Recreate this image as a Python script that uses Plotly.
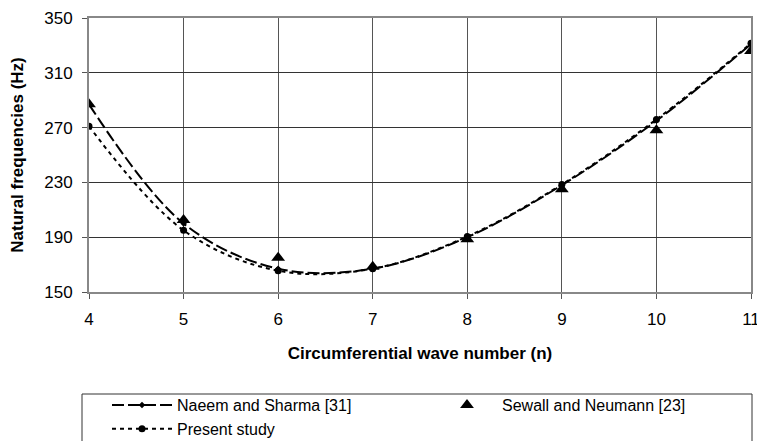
import plotly.graph_objects as go

n_vals = [4, 5, 6, 7, 8, 9, 10, 11]
naeem = [287, 200, 167, 167, 190, 228, 275, 331]
sewall = [287, 202.5, 175, 168.5, 188.5, 225, 268, 326]
present = [271, 195, 165.5, 167, 190.5, 228.5, 276, 331.5]

x_ticks = [4, 5, 6, 7, 8, 9, 10, 11]
y_ticks = [150, 190, 230, 270, 310, 350]

FONT = "Liberation Sans, Arial, sans-serif"

# plot area in pixels: left 89, right 751, top 18, bottom 292
L, R, T, B = 89, 751, 18, 292
W, H = 757, 441
def px(x):
    return (x - L) / (R - L)
def py(y):
    return (B - y) / (B - T)

fig = go.Figure()
fig.add_trace(go.Scatter(
    x=n_vals, y=naeem, name="Naeem and Sharma [31]", mode="lines+markers",
    line=dict(color="black", width=2, dash="12px,4px", shape="spline", smoothing=1.0),
    marker=dict(symbol="diamond", size=5, color="black"),
))
fig.add_trace(go.Scatter(
    x=n_vals, y=sewall, name="Sewall and Neumann [23]", mode="markers",
    marker=dict(symbol="triangle-up", size=12, color="black"),
))
fig.add_trace(go.Scatter(
    x=n_vals, y=present, name="Present study", mode="lines+markers",
    line=dict(color="black", width=2, dash="4px,4px", shape="spline", smoothing=1.0),
    marker=dict(symbol="circle", size=7, color="black"),
))

fig.add_shape(type="rect", xref="paper", yref="paper",
              x0=px(82), x1=px(752), y0=py(394), y1=py(450),
              line=dict(color="#333", width=1), fillcolor="rgba(0,0,0,0)", layer="below")

fig.update_layout(
    width=W, height=H,
    margin=dict(l=L, r=W - R, t=T, b=H - B),
    paper_bgcolor="white", plot_bgcolor="white",
    font=dict(family=FONT, size=17, color="black"),
    showlegend=True,
    legend=dict(
        orientation="h", x=px(110), xanchor="left",
        yref="container", y=1 - 388 / H, yanchor="top",
        borderwidth=0, bgcolor="rgba(0,0,0,0)",
        entrywidth=250, entrywidthmode="pixels", itemwidth=60,
        font=dict(family=FONT, size=16, color="black"), tracegroupgap=0,
    ),
    xaxis=dict(
        range=[4, 11], tickvals=x_ticks, ticktext=[str(v) for v in x_ticks],
        showgrid=True, gridcolor="#555", gridwidth=1,
        showline=True, linecolor="#888", linewidth=2, mirror=True,
        ticks="outside", ticklen=5, tickcolor="#555", ticklabelstandoff=6,
        ticklabeloverflow="allow", automargin=False,
        zeroline=False,
        title=dict(text="<b>Circumferential wave number (n)</b>", font=dict(size=17, family=FONT), standoff=19),
        tickfont=dict(size=17),
    ),
    yaxis=dict(
        range=[150, 350], tickvals=y_ticks, ticktext=[str(v) for v in y_ticks],
        showgrid=True, gridcolor="#333", gridwidth=1,
        showline=True, linecolor="#888", linewidth=2, mirror=True,
        ticks="outside", ticklen=5, tickcolor="#555", ticklabelstandoff=6,
        automargin=False,
        zeroline=False,
        title=dict(text="<b>Natural frequencies (Hz)</b>", font=dict(size=17, family=FONT), standoff=16),
        tickfont=dict(size=17),
    ),
)

fig.write_html("out.html")
